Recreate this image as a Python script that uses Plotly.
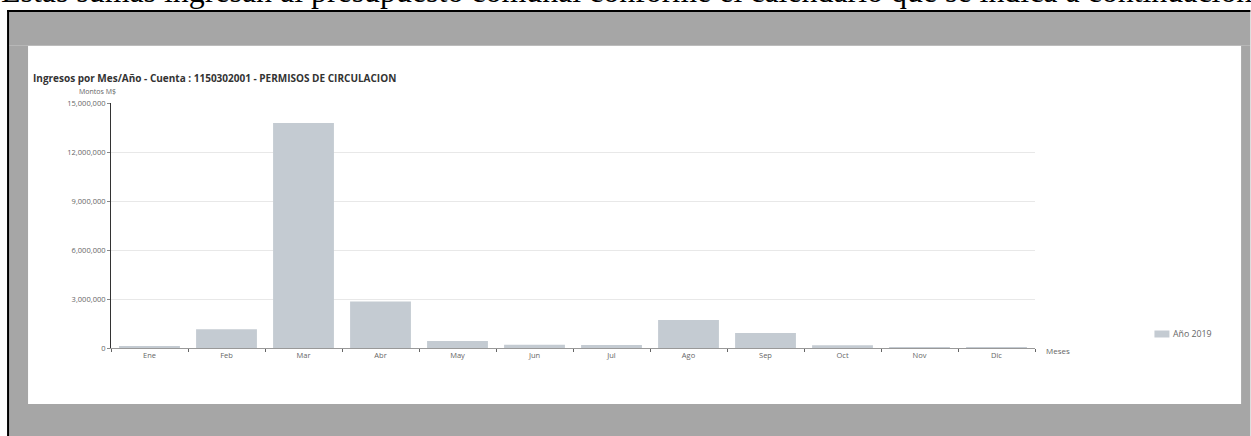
import plotly.graph_objects as go

# Monthly income, account 1150302001 (permisos de circulación), year 2019
meses = ["Ene", "Feb", "Mar", "Abr", "May", "Jun", "Jul", "Ago", "Sep", "Oct", "Nov", "Dic"]
montos = [110000, 1150000, 13780000, 2840000, 430000, 200000, 180000, 1720000, 920000, 170000, 60000, 20000]
serie = "Año 2019"
y_ticks = [0, 3000000, 6000000, 9000000, 12000000, 15000000]

titulo = "Ingresos por Mes/Año - Cuenta : 1150302001 - PERMISOS DE CIRCULACION"
texto_superior = ("Estas sumas ingresan al presupuesto comunal conforme el calendario "
                  "que se indica a continuación")

W, H = 1251, 436
L, R, T, B = 111, 1035.5, 103, 348  # plot area in pixels


def px(x):
    return (x - L) / (R - L)


def py(y):
    return (B - y) / (B - T)


bar_color = "#c4cbd2"
gray = "#a6a6a6"
font = "Open Sans, Noto Sans, sans-serif"

fig = go.Figure(
    go.Bar(
        x=meses,
        y=montos,
        name=serie,
        marker=dict(color=bar_color, line=dict(width=0)),
        showlegend=False,
    )
)

shapes = []
# gray frame around the white card
for x0, y0, x1, y1 in [
    (9, 12, W, 45.7),      # top band
    (9, 404, W, H),        # bottom band
    (9, 45.7, 28, 404),    # left band
    (1241.7, 45.7, W, 404),  # right band
]:
    shapes.append(dict(type="rect", xref="paper", yref="paper", layer="below",
                       x0=px(x0), x1=px(x1), y0=py(y0), y1=py(y1),
                       fillcolor=gray, line=dict(width=0)))
# black border lines
shapes.append(dict(type="rect", xref="paper", yref="paper", layer="below",
                   x0=px(7), x1=px(W), y0=py(10), y1=py(12),
                   fillcolor="black", line=dict(width=0)))
shapes.append(dict(type="rect", xref="paper", yref="paper", layer="below",
                   x0=px(7), x1=px(9), y0=py(10), y1=py(H),
                   fillcolor="black", line=dict(width=0)))
# legend swatch
shapes.append(dict(type="rect", xref="paper", yref="paper",
                   x0=px(1155), x1=px(1170), y0=py(337.5), y1=py(330.5),
                   fillcolor=bar_color, line=dict(width=0)))

annotations = [
    dict(text=texto_superior, xref="paper", yref="paper", x=px(-1), y=py(-8),
         xanchor="left", yanchor="middle", showarrow=False,
         font=dict(family="Liberation Serif, Times New Roman, serif", size=31.9, color="black")),
    dict(text="<b>" + titulo + "</b>", xref="paper", yref="paper", x=px(31), y=py(78),
         xanchor="left", yanchor="middle", showarrow=False,
         font=dict(family=font, size=10, color="#333333")),
    dict(text="Montos M$", xref="paper", yref="paper", x=px(77), y=py(92),
         xanchor="left", yanchor="middle", showarrow=False,
         font=dict(family=font, size=7, color="#666666")),
    dict(text="Meses", xref="paper", yref="paper", x=px(1045), y=py(350),
         xanchor="left", yanchor="middle", showarrow=False,
         font=dict(family=font, size=8, color="#666666")),
    dict(text=serie, xref="paper", yref="paper", x=px(1172), y=py(334),
         xanchor="left", yanchor="middle", showarrow=False,
         font=dict(family=font, size=8.8, color="#666666")),
]

fig.update_layout(
    width=W, height=H,
    margin=dict(l=L, r=W - R, t=T, b=H - B, pad=0),
    paper_bgcolor="white",
    plot_bgcolor="white",
    bargap=0.21,
    shapes=shapes,
    annotations=annotations,
    font=dict(family=font, color="#666666"),
)

fig.update_yaxes(
    range=[0, 15000000],
    tickvals=y_ticks,
    tickformat=",",
    tickfont=dict(size=7.5, color="#666666"),
    ticks="outside", ticklen=3, tickcolor="#888888",
    showgrid=True, gridcolor="#e8e8e8", gridwidth=1,
    showline=True, linecolor="#333333", linewidth=1,
    zeroline=False,
)
fig.update_xaxes(
    tickfont=dict(size=7.5, color="#666666"),
    ticks="outside", ticklen=3, tickcolor="#666666",
    tickson="boundaries",
    showline=True, linecolor="#999999", linewidth=1,
    showgrid=False,
)

fig.write_html("out.html")
